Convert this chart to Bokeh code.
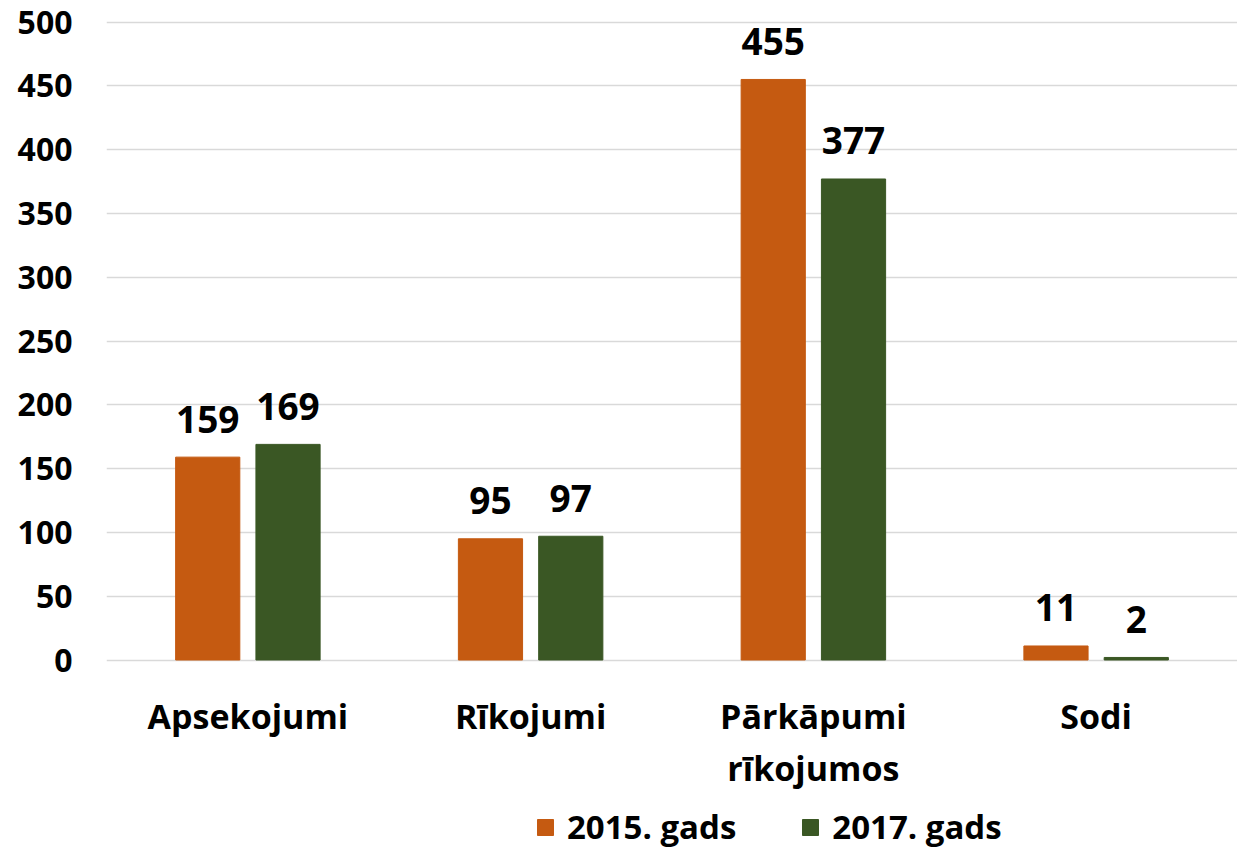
from bokeh.plotting import figure
from bokeh.models import ColumnDataSource, FactorRange, Range1d, FixedTicker
from bokeh.transform import dodge
from bokeh.core.properties import value
from bokeh.embed import file_html
from bokeh.resources import INLINE

categories = ["Apsekojumi", "Rīkojumi", "Pārkāpumi rīkojumos", "Sodi"]
label_line1 = ["Apsekojumi", "Rīkojumi", "Pārkāpumi", "Sodi"]
label_line2 = ["", "", "rīkojumos", ""]
values_2015 = [159, 95, 455, 11]
values_2017 = [169, 97, 377, 2]
series_names = ["2015. gads", "2017. gads"]
y_ticks = [0, 50, 100, 150, 200, 250, 300, 350, 400, 450, 500]

ORANGE = "#C55A11"
GREEN = "#3A5724"
FONT = "Open Sans"

src = ColumnDataSource(dict(
    cat=categories,
    l1=label_line1,
    l2=label_line2,
    v2015=values_2015,
    v2017=values_2017,
    t2015=[str(v) for v in values_2015],
    t2017=[str(v) for v in values_2017],
    zero=[0] * len(categories),
))

p = figure(
    x_range=FactorRange(*categories, range_padding=0),
    y_range=Range1d(-149.3, 502),
    width=1237, height=850,
    output_backend="svg", toolbar_location=None,
    min_border_left=106, min_border_right=0, min_border_top=19, min_border_bottom=0,
)
p.outline_line_color = None
p.background_fill_color = "white"
p.border_fill_color = "white"

p.xaxis.visible = False
p.xgrid.grid_line_color = None

yax = p.yaxis[0]
yax.ticker = FixedTicker(ticks=y_ticks)
yax.axis_line_color = None
yax.major_tick_line_color = None
yax.minor_tick_line_color = None
yax.major_tick_in = 0
yax.major_tick_out = 0
yax.major_label_standoff = 34
yax.major_label_text_font = FONT
yax.major_label_text_font_style = "bold"
yax.major_label_text_font_size = "32px"
yax.major_label_text_color = "black"

p.ygrid.ticker = FixedTicker(ticks=y_ticks)
p.ygrid.grid_line_color = "#D9D9D9"
p.ygrid.grid_line_width = 1.5

off = 0.142
bw = 0.227
p.vbar(x=dodge("cat", -off, range=p.x_range), top="v2015", width=bw, source=src,
       fill_color=ORANGE, line_color=ORANGE, legend_label=series_names[0])
p.vbar(x=dodge("cat", off, range=p.x_range), top="v2017", width=bw, source=src,
       fill_color=GREEN, line_color=GREEN, legend_label=series_names[1])

common = dict(text_font=value(FONT), text_font_style="bold", text_color="black",
              text_align="center", text_baseline="alphabetic", source=src)
p.text(x=dodge("cat", -off, range=p.x_range), y="v2015", text="t2015",
       y_offset=-38, text_font_size="37px", **common)
p.text(x=dodge("cat", off, range=p.x_range), y="v2017", text="t2017",
       y_offset=-38, text_font_size="37px", **common)

p.text(x="cat", y="zero", text="l1", y_offset=56, text_font_size="34px", **common)
p.text(x="cat", y="zero", text="l2", y_offset=108, text_font_size="34px", **common)

lg = p.legend[0]
lg.orientation = "horizontal"
lg.location = (429, 1)
lg.padding = 0
lg.margin = 0
lg.spacing = 64
lg.border_line_color = None
lg.background_fill_alpha = 0
lg.glyph_width = 20
lg.glyph_height = 20
lg.label_standoff = 12
lg.label_text_font = FONT
lg.label_text_font_style = "bold"
lg.label_text_font_size = "33px"
lg.label_text_color = "black"

open("out.html", "w").write(file_html(p, INLINE))
